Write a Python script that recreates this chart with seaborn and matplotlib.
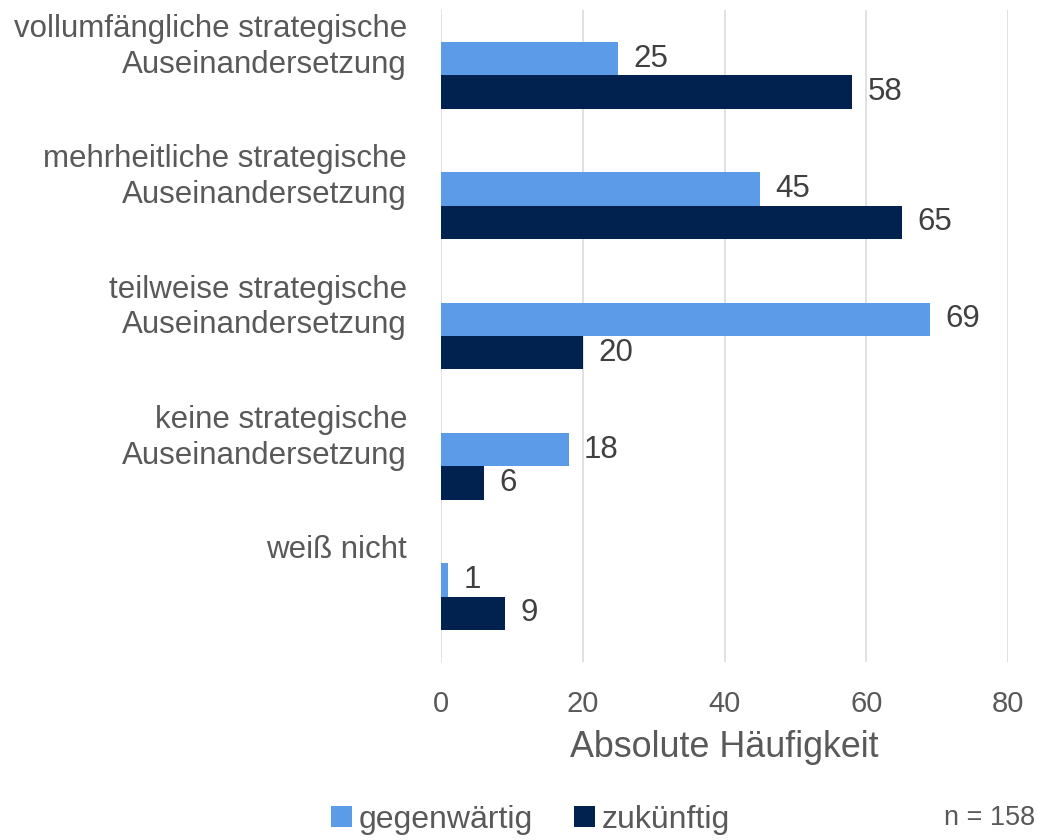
import pandas as pd
import matplotlib.pyplot as plt
import seaborn as sns
from matplotlib.transforms import blended_transform_factory

sns.set_theme(style="white")
plt.rcParams["font.family"] = ["Liberation Sans", "DejaVu Sans"]

# Data
categories = [
    "vollumfängliche strategische\nAuseinandersetzung",
    "mehrheitliche strategische\nAuseinandersetzung",
    "teilweise strategische\nAuseinandersetzung",
    "keine strategische\nAuseinandersetzung",
    "weiß nicht",
]
gegenwaertig = [25, 45, 69, 18, 1]
zukuenftig = [58, 65, 20, 6, 9]
series_names = ["gegenwärtig", "zukünftig"]
x_ticks = [0, 20, 40, 60, 80]

colors = ["#5B9BE8", "#01214F"]
text_grey = "#595959"

df = pd.DataFrame({
    "Kategorie": categories * 2,
    "Wert": gegenwaertig + zukuenftig,
    "Serie": [series_names[0]] * len(categories) + [series_names[1]] * len(categories),
})

fig = plt.figure(figsize=(10.38, 8.4), dpi=100)
ax = fig.add_axes([0.425, 0.212, 0.546, 0.776])

sns.barplot(data=df, y="Kategorie", x="Wert", hue="Serie", order=categories,
            hue_order=series_names, palette=colors, width=0.51, orient="h",
            linewidth=0, saturation=1, ax=ax)

# value labels at the bar ends
for cont in ax.containers:
    ax.bar_label(cont, padding=11, fontsize=22.5, color="#404040")

ax.set_xlim(0, 80)
ax.set_xticks(x_ticks)
ax.tick_params(axis="x", labelsize=21, labelcolor=text_grey, length=0, pad=20)
ax.set_xlabel("Absolute Häufigkeit", fontsize=25.8, color=text_grey, labelpad=9)
ax.set_ylabel("")
ax.set_yticks(range(len(categories)))
ax.set_yticklabels([])
ax.tick_params(axis="y", length=0)

ax.grid(axis="x", color="#d9d9d9", linewidth=1.1)
ax.grid(axis="y", visible=False)
ax.set_axisbelow(True)
for side in ["top", "right", "bottom", "left"]:
    ax.spines[side].set_visible(False)

# category labels sit near the top of each group, right-aligned
trans = blended_transform_factory(ax.transAxes, ax.transData)
for i, cat in enumerate(categories):
    ax.text(-0.06, i - 0.47, cat, transform=trans, ha="right", va="top",
            fontsize=22.5, color=text_grey, linespacing=1.25)

handles, labels = ax.get_legend_handles_labels()
ax.get_legend().remove()
fig.legend(handles, labels, loc="center", bbox_to_anchor=(0.511, 0.024),
           ncol=2, frameon=False, fontsize=23, labelcolor=text_grey,
           handlelength=0.65, handleheight=0.65, handletextpad=0.2,
           columnspacing=1.3, borderpad=0.1)

fig.text(0.953, 0.026, "n = 158", ha="center", va="center", fontsize=19.5, color=text_grey)

fig.savefig("out.png", dpi=100)
